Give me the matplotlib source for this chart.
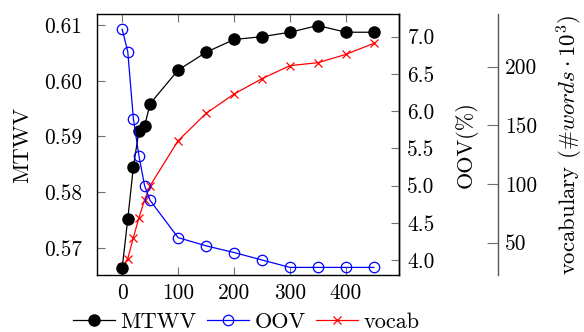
import matplotlib
matplotlib.use("Agg")
import matplotlib.pyplot as plt
from matplotlib.lines import Line2D

plt.rcParams['font.family'] = 'serif'
plt.rcParams['font.serif'] = ['cmr10']
plt.rcParams['mathtext.fontset'] = 'cm'
plt.rcParams['axes.formatter.use_mathtext'] = True

x_mtwv = [0, 10, 20, 30, 40, 50, 100, 150, 200, 250, 300, 350, 400, 450]
mtwv = [0.5664, 0.5752, 0.5845, 0.5910, 0.5918, 0.5959, 0.6019, 0.6051,
        0.6074, 0.6079, 0.6087, 0.6099, 0.6087, 0.6087]
x_oov = [0, 10, 20, 30, 40, 50, 100, 150, 200, 250, 300, 350, 400, 450]
oov = [7.10, 6.80, 5.90, 5.40, 5.00, 4.80, 4.30, 4.19, 4.10, 4.00, 3.90, 3.90, 3.90, 3.90]
x_vocab = [0, 10, 20, 30, 40, 50, 100, 150, 200, 250, 300, 350, 400, 450]
vocab = [29, 36.4, 54.3, 71.3, 86.4, 98.6, 136.9, 160.2, 176.7, 189.8, 200.9, 203.4, 210.5, 219.9]

x_ticks = [0, 100, 200, 300, 400]
mtwv_ticks = [0.57, 0.58, 0.59, 0.60, 0.61]
oov_ticks = [4.0, 4.5, 5.0, 5.5, 6.0, 6.5, 7.0]
vocab_ticks = [50, 100, 150, 200]

FS = 15.4
LFS = 16.0
LEGFS = 16.0
TICKC = '#707070'

fig = plt.figure(figsize=(5.84, 3.32), dpi=100)
ax = fig.add_axes([97/584, 1-275/332, 302/584, 261/332])
ax2 = ax.twinx()
ax3 = ax.twinx()

# drawing order: vocab (bottom), MTWV, OOV (top)
ax3.set_zorder(1)
ax.set_zorder(2)
ax2.set_zorder(3)
for a in (ax, ax2, ax3):
    a.patch.set_visible(False)

ax.plot(x_mtwv, mtwv, color='black', lw=0.9, marker='o', ms=8,
        markerfacecolor='black', markeredgecolor='black')
ax2.plot(x_oov, oov, color='blue', lw=0.9, marker='o', ms=7.5,
         markerfacecolor='none', markeredgecolor='blue', markeredgewidth=0.9)
ax3.plot(x_vocab, vocab, color='red', lw=0.9, marker='x', ms=6,
         markeredgewidth=0.9)

ax.set_xlim(-45, 495)
ax.set_ylim(0.56516, 0.61197)
ax2.set_ylim(3.798, 7.305)
ax3.set_ylim(22.5, 244.9)

for s in ax.spines.values():
    s.set_linewidth(1.0)
    s.set_color('black')
for s in ax2.spines.values():
    s.set_visible(False)
ax2.spines['right'].set_visible(True)
ax2.spines['right'].set_linewidth(1.0)
ax2.spines['right'].set_color('black')
for s in ax3.spines.values():
    s.set_visible(False)
ax3.spines['right'].set_visible(True)
ax3.spines['right'].set_position(('axes', (498.3-97)/302))
ax3.spines['right'].set_color('#555555')
ax3.spines['right'].set_linewidth(1.0)

ax.set_xticks(x_ticks)
ax.set_xticklabels([str(v) for v in x_ticks])
ax.set_yticks(mtwv_ticks)
ax.set_yticklabels(['%.2f' % v for v in mtwv_ticks])
ax2.set_yticks(oov_ticks)
ax2.set_yticklabels(['%.1f' % v for v in oov_ticks])
ax3.set_yticks(vocab_ticks)
ax3.set_yticklabels([str(v) for v in vocab_ticks])

ax.tick_params(axis='x', direction='in', top=True, bottom=True, length=6,
               width=0.8, color=TICKC, pad=6, labelsize=FS)
ax.tick_params(axis='y', direction='in', left=True, right=False, length=6,
               width=0.8, color=TICKC, pad=11, labelsize=FS)
ax2.tick_params(axis='y', direction='in', length=6, width=0.8, color=TICKC, pad=6,
                labelsize=FS)
ax3.tick_params(axis='y', direction='in', length=8, width=0.8, color=TICKC, pad=5,
                labelsize=FS)

fig.text(22/584, 1-144.5/332, 'MTWV', rotation=90, ha='center', va='center', fontsize=LFS)
fig.text(466.7/584, 1-145/332, 'OOV(%)', rotation=90, ha='center', va='center', fontsize=LFS)
fig.text(570/584, 1-144.5/332, r'vocabulary (#$words\cdot 10^3$)', rotation=90,
         ha='center', va='center', fontsize=16.4)

handles = [
    Line2D([], [], color='black', lw=0.9, marker='o', ms=8, markerfacecolor='black'),
    Line2D([], [], color='blue', lw=0.9, marker='o', ms=7.5, markerfacecolor='none',
           markeredgecolor='blue', markeredgewidth=0.9),
    Line2D([], [], color='red', lw=0.9, marker='x', ms=6, markeredgewidth=0.9),
]
fig.legend(handles, ['MTWV', 'OOV', 'vocab'], loc='center',
           bbox_to_anchor=(246/584, 1-322/332), ncol=3, frameon=False,
           fontsize=LEGFS, handlelength=1.9, handletextpad=0.25, columnspacing=0.45,
           borderpad=0, borderaxespad=0)

fig.savefig('out.png', dpi=100)
